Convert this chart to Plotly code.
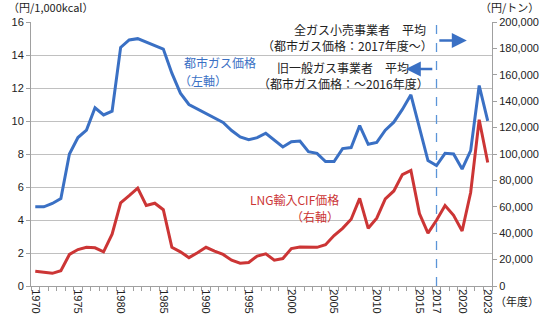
import plotly.graph_objects as go

years = list(range(1970, 2024))
city_gas = [4.8, 4.8, 5.0, 5.3, 8.0, 9.0, 9.45, 10.8, 10.37, 10.6,
            14.46, 14.91, 14.99, 14.79, 14.6, 14.36, 12.9, 11.69, 11.0, 10.74,
            10.47, 10.21, 9.91, 9.42, 9.03, 8.87, 8.99, 9.26, 8.83, 8.43,
            8.75, 8.79, 8.14, 8.04, 7.54, 7.54, 8.33, 8.39, 9.72, 8.59,
            8.7, 9.44, 9.93, 10.7, 11.59, 9.62, 7.6, 7.3, 8.04, 8.0,
            7.09, 8.2, 12.15, 10.01]
lng_cif = [11100, 10100, 9600, 11600, 23900, 27600, 29300, 28900, 25900, 39300,
           63000, 68400, 74100, 61000, 62700, 57800, 29300, 25900, 21500, 25200,
           29300, 26400, 23900, 19500, 17300, 17800, 22700, 24400, 19500, 20800,
           28400, 29600, 29300, 29300, 31300, 38200, 43700, 50600, 66400, 43700,
           51400, 65900, 72000, 84400, 87600, 54800, 40000, 49800, 61000, 53600,
           41700, 70800, 126000, 93500]
tick_years = [1970, 1975, 1980, 1985, 1990, 1995, 2000, 2005, 2010, 2015, 2017, 2020, 2023]
tick_text = [str(y) for y in tick_years]

BLUE = "#3a70c4"
RED = "#cc3535"
FONT = "Arial, Liberation Sans, Noto Sans CJK JP"
JP = "Noto Sans CJK JP"

W, H = 551, 326
L, R, T, B = 22, 53, 22, 34
PW, PH = W - L - R, H - T - B


def px(x):
    return (x - L) / PW


def py(y):
    return (H - B - y) / PH


fig = go.Figure()
fig.add_trace(go.Scatter(x=years, y=city_gas, mode="lines", line=dict(color=BLUE, width=3),
                         yaxis="y", showlegend=False))
fig.add_trace(go.Scatter(x=years, y=lng_cif, mode="lines", line=dict(color=RED, width=3),
                         yaxis="y2", showlegend=False))

fig.add_shape(type="line", x0=2017, x1=2017, xref="x", y0=0, y1=1, yref="paper",
              line=dict(color="#5b95d8", width=1.3, dash="dash"))

ann = []


def text(s, x, y, color="#222222", xanchor="center", size=12, family=JP):
    ann.append(dict(text=s, x=px(x), y=py(y), xref="paper", yref="paper", showarrow=False,
                    xanchor=xanchor, yanchor="middle", font=dict(color=color, size=size, family=family)))


text("（円/1,000kcal）", -4, 7, xanchor="left", size=11)
text("（円/トン）", 549, 7, xanchor="right", size=11)
text("（年度）", 549, 307, xanchor="right", size=11)
text("全ガス小売事業者　平均", 362, 30)
text("（都市ガス価格：2017年度～）", 349, 46)
text("旧一般ガス事業者　平均", 344, 69)
text("（都市ガス価格：～2016年度）", 345, 85)
text("都市ガス価格", 178, 63, color=BLUE, xanchor="left")
text("（左軸）", 173, 82, color=BLUE, xanchor="left")
text("LNG輸入CIF価格", 342, 204, color=RED, xanchor="right")
text("（右軸）", 342, 221, color=RED, xanchor="right")

# arrows (tail offset in pixels)
ann.append(dict(x=px(472), y=py(41), ax=-29, ay=0, xref="paper", yref="paper",
                showarrow=True, arrowhead=2, arrowsize=1.2,
                arrowwidth=2.5, arrowcolor=BLUE, text=""))
ann.append(dict(x=px(409), y=py(70), ax=28, ay=0, xref="paper", yref="paper",
                showarrow=True, arrowhead=2, arrowsize=1.2,
                arrowwidth=2.5, arrowcolor=BLUE, text=""))

fig.update_layout(
    width=W, height=H,
    margin=dict(l=L, r=R, t=T, b=B),
    paper_bgcolor="white", plot_bgcolor="white",
    font=dict(family=FONT, size=11, color="#222222"),
    annotations=ann,
    xaxis=dict(range=[1969.5, 2023.5], tickmode="array", tickvals=tick_years, ticktext=tick_text,
               tickangle=90, ticks="", showgrid=False, showline=True, linecolor="#a0a0a0",
               linewidth=1, zeroline=False, tickfont=dict(size=11),
               minor=dict(tickmode="linear", tick0=1969.5, dtick=1, ticks="outside",
                          ticklen=4, tickcolor="#a0a0a0", showgrid=False)),
    yaxis=dict(range=[0, 16], dtick=2, showgrid=True, gridcolor="#c0c0c0", gridwidth=1.2,
               showline=True, linecolor="#a0a0a0", ticks="outside", ticklen=4,
               tickcolor="#a0a0a0", zeroline=False, tickfont=dict(size=11)),
    yaxis2=dict(range=[0, 200000], dtick=20000, overlaying="y", side="right", showgrid=False,
                showline=True, linecolor="#a0a0a0", ticks="outside", ticklen=4,
                tickcolor="#a0a0a0", tickformat=",", zeroline=False, tickfont=dict(size=11)),
)

fig.write_html("out.html")
